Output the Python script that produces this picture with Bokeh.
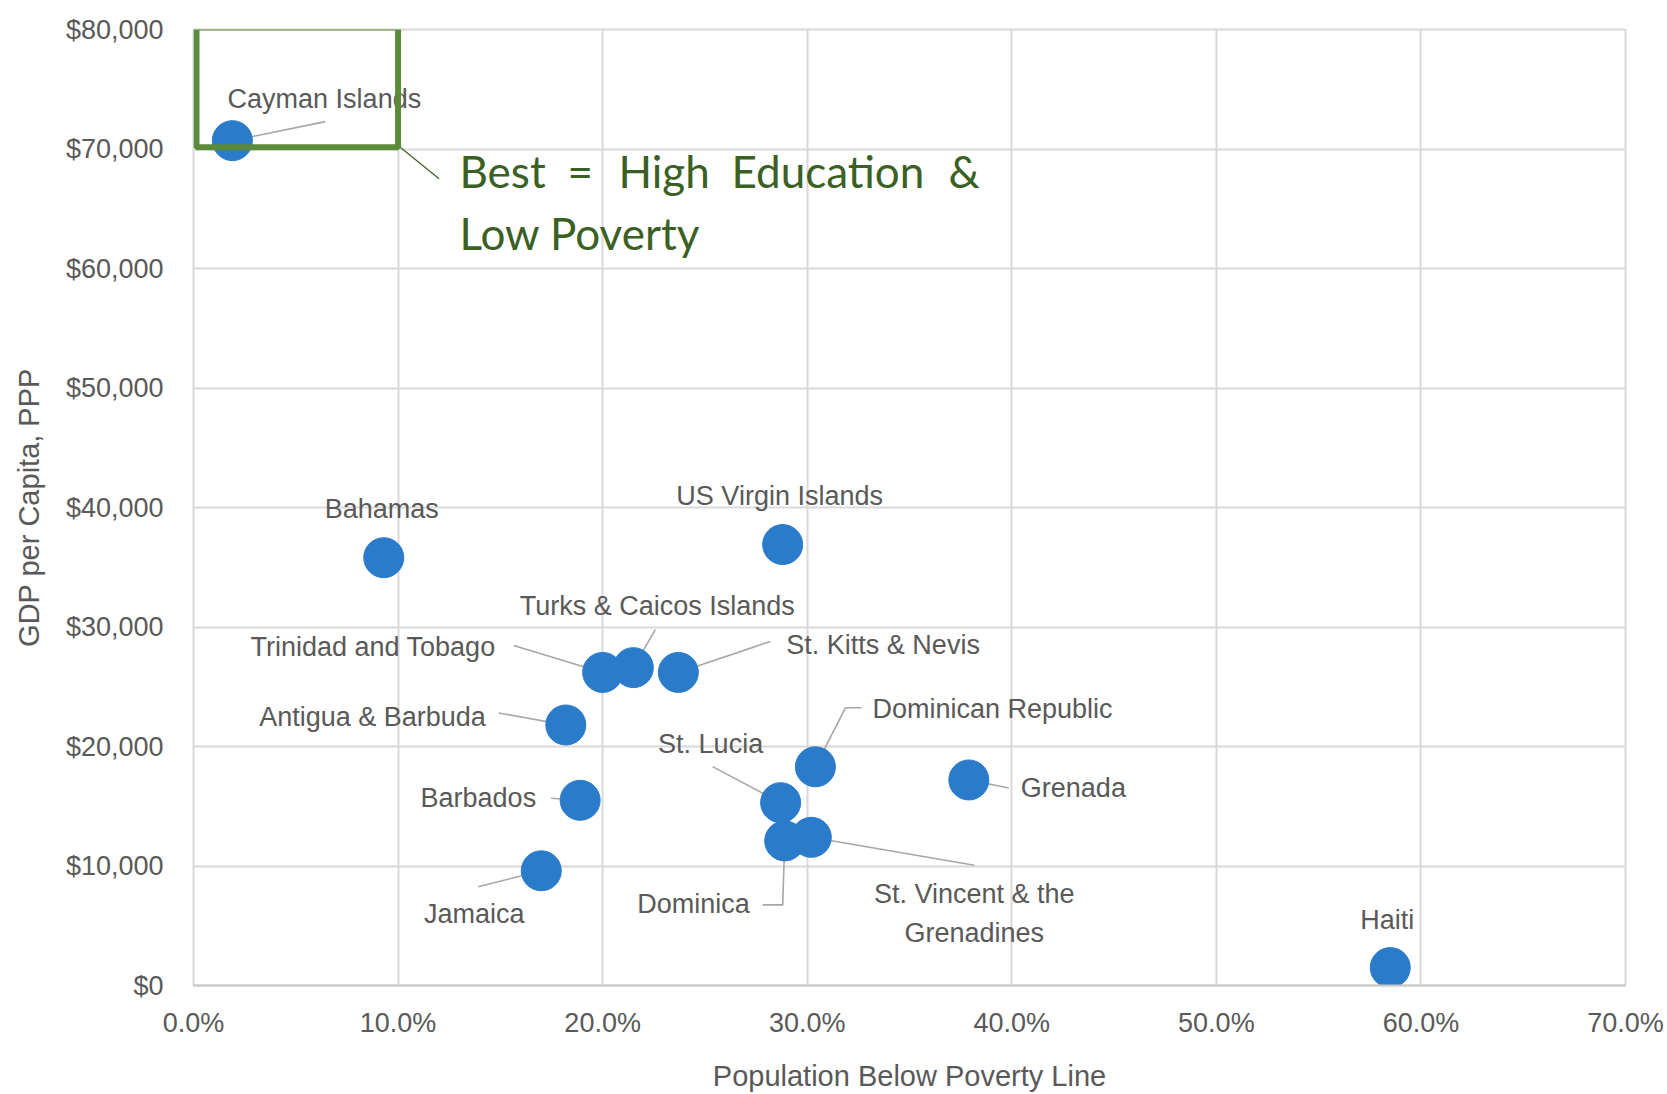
from bokeh.plotting import figure
from bokeh.models import (Range1d, FixedTicker, NumeralTickFormatter, ColumnDataSource,
                          BoxAnnotation, Label)
from bokeh.core.properties import value, field
from bokeh.embed import file_html
from bokeh.resources import INLINE

# --- data -----------------------------------------------------------------
countries = ["Cayman Islands", "Bahamas", "US Virgin Islands", "Trinidad and Tobago",
             "Turks & Caicos Islands", "St. Kitts & Nevis", "Antigua & Barbuda", "Barbados",
             "Jamaica", "St. Lucia", "Dominican Republic", "Dominica",
             "St. Vincent & the\nGrenadines", "Grenada", "Haiti"]
poverty = [0.019, 0.093, 0.288, 0.200, 0.215, 0.237, 0.182, 0.189,
           0.170, 0.287, 0.304, 0.289, 0.302, 0.379, 0.585]
gdp = [70700, 35800, 36900, 26200, 26600, 26200, 21800, 15500,
       9600, 15300, 18300, 12100, 12400, 17200, 1500]

x_ticks = [0.0, 0.1, 0.2, 0.3, 0.4, 0.5, 0.6, 0.7]
y_ticks = [0, 10000, 20000, 30000, 40000, 50000, 60000, 70000, 80000]

x_title = "Population Below Poverty Line"
y_title = "GDP per Capita, PPP"
note_line1 = ["Best", "=", "High", "Education", "&"]
note_line2 = "Low Poverty"

# --- page geometry ----------------------------------------------------------
W, H = 1667, 1094
B_LEFT, B_RIGHT, B_TOP, B_BOTTOM = 193, 42, 29, 109
FW = W - B_LEFT - B_RIGHT
FH = H - B_TOP - B_BOTTOM
X0, X1 = x_ticks[0], x_ticks[-1]
Y0, Y1 = y_ticks[0], y_ticks[-1]
PX_X = FW / (X1 - X0)
PX_Y = FH / (Y1 - Y0)


def sx_to_x(px):
    return X0 + (px - B_LEFT) / PX_X


def sy_to_y(py):
    return Y0 + (B_TOP + FH - py) / PX_Y


# label placement per country: (dx, dy, align, leader polyline as pixel offsets)
label_layout = {
    "Cayman Islands": (92, -42, "center", [(0, 0), (93, -19)]),
    "Bahamas": (-2, -49, "center", None),
    "US Virgin Islands": (-3, -49, "center", None),
    "Trinidad and Tobago": (-107, -25, "right", [(0, 0), (-89, -27)]),
    "Turks & Caicos Islands": (24, -62, "center", [(0, 0), (22, -38)]),
    "St. Kitts & Nevis": (108, -27, "left", [(0, 0), (92, -31)]),
    "Antigua & Barbuda": (-80, -8, "right", [(0, 0), (-67, -12)]),
    "Barbados": (-44, -2, "right", [(0, 0), (-29, -2)]),
    "Jamaica": (-67, 43, "center", [(0, 0), (-63, 16)]),
    "St. Lucia": (-70, -59, "center", [(0, 0), (-68, -36)]),
    "Dominican Republic": (57, -58, "left", [(0, 0), (30, -59), (46, -59)]),
    "Dominica": (-35, 63, "right", [(0, 0), (-2, 64), (-22, 64)]),
    "St. Vincent & the\nGrenadines": (163, 76, "center", [(0, 0), (163, 28)]),
    "Grenada": (52, 8, "left", [(0, 0), (40, 8)]),
    "Haiti": (-3, -48, "center", None),
}

dxs = [label_layout[c][0] for c in countries]
dys = [label_layout[c][1] for c in countries]
aligns = [label_layout[c][2] for c in countries]

lead_xs, lead_ys = [], []
for c, px, gy in zip(countries, poverty, gdp):
    poly = label_layout[c][3]
    if poly is None:
        continue
    lead_xs.append([px + ox / PX_X for ox, oy in poly])
    lead_ys.append([gy - oy / PX_Y for ox, oy in poly])

src = ColumnDataSource(dict(x=poverty, y=gdp, label=countries, dx=dxs, dy=dys, align=aligns))

# --- figure -----------------------------------------------------------------
p = figure(width=W, height=H, output_backend="svg", toolbar_location=None,
           x_range=Range1d(X0, X1), y_range=Range1d(Y0, Y1),
           min_border_left=B_LEFT, min_border_right=B_RIGHT,
           min_border_top=B_TOP, min_border_bottom=B_BOTTOM,
           background_fill_color="white", border_fill_color="white")
p.outline_line_color = "#d9d9d9"
p.outline_line_width = 2

TXT = "#595959"
FONT = "Liberation Sans"

p.xaxis.ticker = FixedTicker(ticks=x_ticks)
p.yaxis.ticker = FixedTicker(ticks=y_ticks)
p.xaxis.formatter = NumeralTickFormatter(format="0.0%")
p.yaxis.formatter = NumeralTickFormatter(format="$0,0")
for ax in (p.xaxis, p.yaxis):
    ax.major_tick_line_color = None
    ax.minor_tick_line_color = None
    ax.major_tick_in = 0
    ax.major_tick_out = 0
    ax.major_label_text_font = FONT
    ax.major_label_text_font_size = "27px"
    ax.major_label_text_color = TXT
    ax.axis_label_text_font = FONT
    ax.axis_label_text_font_size = "29px"
    ax.axis_label_text_font_style = "normal"
    ax.axis_label_text_color = TXT
p.xaxis.axis_line_color = "#c8c8c8"
p.xaxis.axis_line_width = 2
p.yaxis.axis_line_color = None
p.xaxis.major_label_standoff = 22
p.yaxis.major_label_standoff = 30
p.xaxis.axis_label = x_title
p.yaxis.axis_label = y_title
p.xaxis.axis_label_standoff = 19
p.yaxis.axis_label_standoff = 18

p.grid.grid_line_color = "#d9d9d9"
p.grid.grid_line_width = 2

# leader lines, points, labels
p.multi_line(lead_xs, lead_ys, line_color="#a6a6a6", line_width=1.6)
p.scatter("x", "y", source=src, size=40, fill_color="#2b7bcb", line_color="#2b7bcb",
          line_width=1)
p.text("x", "y", text="label", source=src, x_offset="dx", y_offset="dy",
       text_align=field("align"), text_baseline="middle", text_font=value(FONT),
       text_font_size="27px", text_color=TXT, text_line_height=1.3)

# highlighted cell with callout note
GREEN_BOX = "#5a8a3a"
GREEN_TXT = "#3b6024"
p.add_layout(BoxAnnotation(left=sx_to_x(196), right=x_ticks[1],
                           bottom=sy_to_y(146.7), top=sy_to_y(27),
                           fill_color=None, fill_alpha=0,
                           line_color=GREEN_BOX, line_alpha=1.0, line_width=6))
p.line([x_ticks[1], sx_to_x(438.6)], [sy_to_y(145), sy_to_y(178.3)],
       line_color=GREEN_TXT, line_width=1.2)

word_px = [459, 567, 618, 731, 948]
for word, wx in zip(note_line1, word_px):
    p.add_layout(Label(x=sx_to_x(wx), y=sy_to_y(170), text=word,
                       text_font="Lato", text_font_size="44px", text_color=GREEN_TXT,
                       text_baseline="alphabetic", text_align="left"))
p.add_layout(Label(x=sx_to_x(459), y=sy_to_y(232), text=note_line2,
                   text_font="Lato", text_font_size="44px", text_color=GREEN_TXT,
                   text_baseline="alphabetic", text_align="left"))

open("out.html", "w").write(file_html(p, INLINE))
